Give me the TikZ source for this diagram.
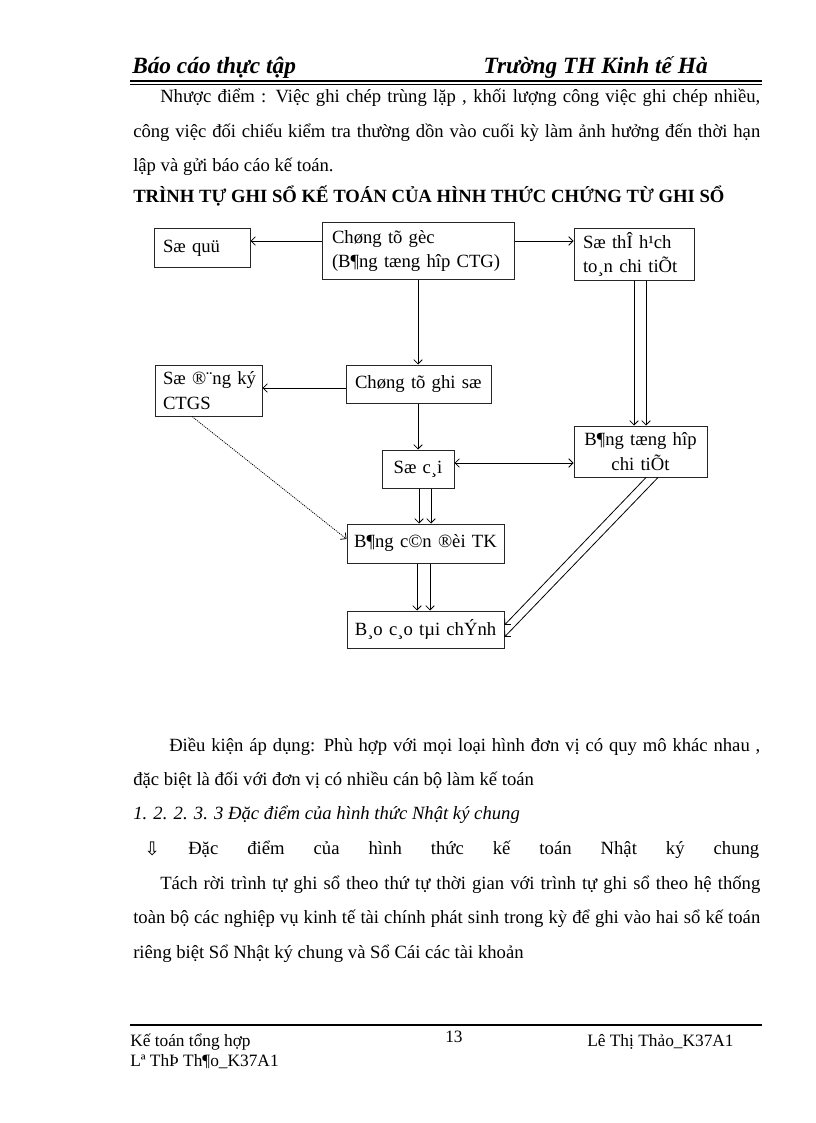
\documentclass[tikz,border=0pt]{standalone}
\usepackage{fontspec}
\setmainfont{Liberation Serif}
\newfontfamily\symf{DejaVu Sans}
\usetikzlibrary{arrows.meta}
\begin{document}
\begin{tikzpicture}[x=0.75pt,y=-0.75pt,
  txt/.style={inner sep=0pt, anchor=base west, font=\fontsize{14}{16.5}\selectfont},
  hdr/.style={inner sep=0pt, font=\fontsize{17.5}{20}\selectfont\bfseries\itshape},
  ftr/.style={inner sep=0pt, font=\fontsize{13}{15}\selectfont},
  bx/.style={draw=black!85, line width=0.75pt, inner ysep=0pt, font=\fontsize{14}{18.5}\selectfont},
  bxl/.style={bx, align=left},
  bxc/.style={bx, align=center, inner xsep=3pt},
  tip/.tip={Straight Barb[length=3.2pt,width=6.4pt]},
  arr/.style={line width=0.6pt, -tip},
  arrb/.style={line width=0.6pt, tip-tip},
  dotarr/.style={line width=0.6pt, dash pattern=on 0.8pt off 0.8pt, -tip}]
\useasboundingbox (0,0) rectangle (816,1123);

% ---------- header ----------
\node[hdr, anchor=base west] (h1) at (132,74) {Báo cáo thực tập};
\node[hdr, anchor=base east] (h2) at (708,74) {Trường TH Kinh tế Hà};
\draw[line width=0.9pt] (130,81) -- (762,81);
\draw[line width=0.5pt] (130,84.5) -- (762,84.5);

% ---------- upper text ----------
\node[txt] (l1) at (160,103) {\makebox[450pt][s]{Nhược điểm : Việc ghi chép trùng lặp , khối lượng công việc ghi chép nhiều,}};
\node[txt] (l2) at (133,138) {\makebox[470.25pt][s]{công việc đối chiếu kiểm tra thường dồn vào cuối kỳ làm ảnh hưởng đến thời hạn}};
\node[txt] (l3) at (133,172) {lập và gửi báo cáo kế toán.};
\node[txt, font=\fontsize{14}{16.5}\selectfont\bfseries] (ttl) at (133,203) {TRÌNH TỰ GHI SỔ KẾ TOÁN CỦA HÌNH THỨC CHỨNG TỪ GHI SỔ};

% ---------- diagram boxes ----------
\node[bxl, inner xsep=6.75pt, text width=58.5pt, minimum height=28.5pt] (quy) at (202,248) {\mbox{Sæ quü}};
\node[bxl, inner xsep=7.5pt, text width=129pt, minimum height=42pt] (goc) at (418,251) {\mbox{Chøng tõ gèc}\\\mbox{(B¶ng tæng hîp CTG)}};
\node[bxl, inner xsep=6.75pt, text width=76.5pt, minimum height=38.25pt] (the) at (634,254.5) {\mbox{Sæ thÎ h¹ch}\\\mbox{to¸n chi tiÕt}};
\node[bxl, inner xsep=6pt, text width=68.25pt, minimum height=38.25pt] (dk) at (208.5,390.5) {\mbox{Sæ ®¨ng ký}\\\mbox{CTGS}};
\node[bxl, inner xsep=6.75pt, text width=95.25pt, minimum height=28.5pt] (ctgs) at (418.5,384) {\mbox{Chøng tõ ghi sæ}};
\node[bxc, text width=48pt, minimum height=28.5pt] (cai) at (418,469) {\mbox{Sæ c¸i}};
\node[bxc, text width=93.75pt, minimum height=38.25pt] (tht) at (640.5,451.5) {\mbox{B¶ng tæng hîp}\\\mbox{chi tiÕt}};
\node[bxc, text width=111.75pt, minimum height=29.25pt] (cdtk) at (425.5,543.5) {\mbox{B¶ng c©n ®èi TK}};
\node[bxc, text width=111.75pt, minimum height=27.75pt] (bctc) at (425.5,629.5) {\mbox{B¸o c¸o tµi chÝnh}};

% ---------- helper coordinates ----------
\coordinate (r1) at (0,241);
\coordinate (r2) at (0,388);
\coordinate (r3) at (0,463);
\coordinate (v1) at (418,0);
\coordinate (v2) at (634,0);
\coordinate (v3) at (646,0);
\coordinate (v4) at (419,0);
\coordinate (v5) at (431,0);
\coordinate (v6) at (417,0);
\coordinate (v7) at (430,0);
\coordinate (d1) at (646,0);
\coordinate (d2) at (658,0);
\coordinate (e1) at (0,625);
\coordinate (e2) at (0,637);
\coordinate (d3) at (192,0);
\coordinate (e3) at (0,539);

% ---------- connectors ----------
\draw[arr] (goc.west |- r1) -- (quy.east |- r1);
\draw[arr] (goc.east |- r1) -- (the.west |- r1);
\draw[arr] (goc.south -| v1) -- (ctgs.north -| v1);
\draw[arr] (ctgs.west |- r2) -- (dk.east |- r2);
\draw[arr] (ctgs.south -| v1) -- (cai.north -| v1);
\draw[arr] (the.south -| v2) -- (tht.north -| v2);
\draw[arr] (the.south -| v3) -- (tht.north -| v3);
\draw[arrb] (cai.east |- r3) -- (tht.west |- r3);
\draw[arr] (cai.south -| v4) -- (cdtk.north -| v4);
\draw[arr] (cai.south -| v5) -- (cdtk.north -| v5);
\draw[arr] (cdtk.south -| v6) -- (bctc.north -| v6);
\draw[arr] (cdtk.south -| v7) -- (bctc.north -| v7);
\draw[arr] (tht.south -| d1) -- (bctc.east |- e1);
\draw[arr] (tht.south -| d2) -- (bctc.east |- e2);
\draw[dotarr] (dk.south -| d3) -- (cdtk.west |- e3);

% ---------- lower text ----------
\node[txt] (m1) at (169,751) {\makebox[443.25pt][s]{Điều kiện áp dụng: Phù hợp với mọi loại hình đơn vị có quy mô khác nhau ,}};
\node[txt] (m2) at (133,785) {đặc biệt là đối với đơn vị có nhiều cán bộ làm kế toán};
\node[txt, font=\fontsize{14}{16.5}\selectfont\itshape] (m3) at (133,819) {1. 2. 2. 3. 3 Đặc điểm của hình thức Nhật ký chung};
\node[txt, font=\fontsize{14}{16}\symf] (m4a) at (144,855) {⇩};
\node[txt] (m4) at (188,854) {\makebox[428.25pt][s]{Đặc điểm của hình thức kế toán Nhật ký chung}};
\node[txt] (m5) at (160,889) {\makebox[450pt][s]{Tách rời trình tự ghi sổ theo thứ tự thời gian với trình tự ghi sổ theo hệ thống}};
\node[txt] (m6) at (133,923) {\makebox[470.25pt][s]{toàn bộ các nghiệp vụ kinh tế tài chính phát sinh trong kỳ để ghi vào hai sổ kế toán}};
\node[txt] (m7) at (133,958) {riêng biệt Sổ Nhật ký chung và Sổ Cái các tài khoản};

% ---------- footer ----------
\draw[line width=1.2pt] (130,1025) -- (762,1025);
\node[ftr, anchor=base west] (f1) at (130,1046) {Kế toán tổng hợp};
\node[ftr, anchor=base west] (f2) at (445,1042) {13};
\node[ftr, anchor=base west] (f3) at (587,1046) {Lê Thị Thảo\_K37A1};
\node[ftr, anchor=base west] (f4) at (130,1066) {Lª ThÞ Th¶o\_K37A1};
\end{tikzpicture}
\end{document}
